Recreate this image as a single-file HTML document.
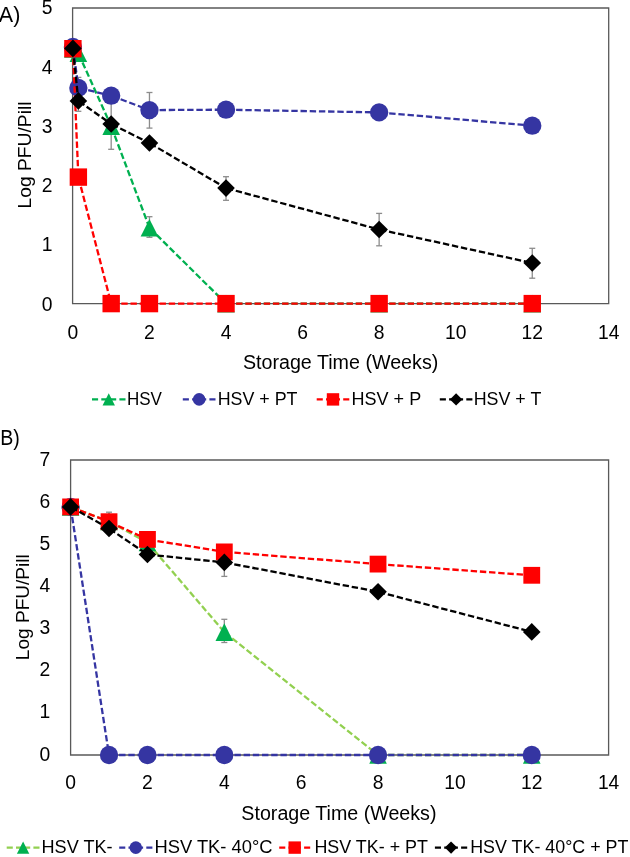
<!DOCTYPE html>
<html><head><meta charset="utf-8"><style>
html,body{margin:0;padding:0;background:#fff;width:630px;height:857px;overflow:hidden}
body{position:relative;font-family:"Liberation Sans", sans-serif}
</style></head><body>
<svg width="630" height="857" viewBox="0 0 630 857" style="position:absolute;left:0;top:0;will-change:transform"><rect width="630" height="857" fill="#fff"/><g font-family='"Liberation Sans", sans-serif' fill="#000"><path d="M72.6 8.0H608.7V303.6H72.6Z" fill="none" stroke="#595959" stroke-width="1.3"/><line x1="111.18" y1="103.00" x2="111.18" y2="149.30" stroke="#8C8C8C" stroke-width="1.3"/><line x1="108.18" y1="103.00" x2="114.18" y2="103.00" stroke="#8C8C8C" stroke-width="1.3"/><line x1="108.18" y1="149.30" x2="114.18" y2="149.30" stroke="#8C8C8C" stroke-width="1.3"/><line x1="149.46" y1="216.70" x2="149.46" y2="237.30" stroke="#8C8C8C" stroke-width="1.3"/><line x1="146.46" y1="216.70" x2="152.46" y2="216.70" stroke="#8C8C8C" stroke-width="1.3"/><line x1="146.46" y1="237.30" x2="152.46" y2="237.30" stroke="#8C8C8C" stroke-width="1.3"/><line x1="78.37" y1="77.40" x2="78.37" y2="98.00" stroke="#8C8C8C" stroke-width="1.3"/><line x1="75.37" y1="77.40" x2="81.37" y2="77.40" stroke="#8C8C8C" stroke-width="1.3"/><line x1="75.37" y1="98.00" x2="81.37" y2="98.00" stroke="#8C8C8C" stroke-width="1.3"/><line x1="149.46" y1="92.50" x2="149.46" y2="128.10" stroke="#8C8C8C" stroke-width="1.3"/><line x1="146.46" y1="92.50" x2="152.46" y2="92.50" stroke="#8C8C8C" stroke-width="1.3"/><line x1="146.46" y1="128.10" x2="152.46" y2="128.10" stroke="#8C8C8C" stroke-width="1.3"/><line x1="78.37" y1="90.50" x2="78.37" y2="111.30" stroke="#8C8C8C" stroke-width="1.3"/><line x1="75.37" y1="90.50" x2="81.37" y2="90.50" stroke="#8C8C8C" stroke-width="1.3"/><line x1="75.37" y1="111.30" x2="81.37" y2="111.30" stroke="#8C8C8C" stroke-width="1.3"/><line x1="226.02" y1="176.70" x2="226.02" y2="200.30" stroke="#8C8C8C" stroke-width="1.3"/><line x1="223.02" y1="176.70" x2="229.02" y2="176.70" stroke="#8C8C8C" stroke-width="1.3"/><line x1="223.02" y1="200.30" x2="229.02" y2="200.30" stroke="#8C8C8C" stroke-width="1.3"/><line x1="379.14" y1="213.40" x2="379.14" y2="245.80" stroke="#8C8C8C" stroke-width="1.3"/><line x1="376.14" y1="213.40" x2="382.14" y2="213.40" stroke="#8C8C8C" stroke-width="1.3"/><line x1="376.14" y1="245.80" x2="382.14" y2="245.80" stroke="#8C8C8C" stroke-width="1.3"/><line x1="532.26" y1="248.30" x2="532.26" y2="278.20" stroke="#8C8C8C" stroke-width="1.3"/><line x1="529.26" y1="248.30" x2="535.26" y2="248.30" stroke="#8C8C8C" stroke-width="1.3"/><line x1="529.26" y1="278.20" x2="535.26" y2="278.20" stroke="#8C8C8C" stroke-width="1.3"/><path d="M72.90 49.00L78.37 53.20M78.37 53.20L111.18 126.20M111.18 126.20L149.46 227.80M149.46 227.80L226.02 303.60M226.02 303.60L379.14 303.60M379.14 303.60L532.26 303.60" fill="none" stroke="#00B050" stroke-width="2.3" stroke-dasharray="6.4 2.8" stroke-dashoffset="-0.9"/><path d="M72.90 40.20L81.70 57.80L64.10 57.80Z" fill="#00B050"/><path d="M78.37 44.40L87.17 62.00L69.57 62.00Z" fill="#00B050"/><path d="M111.18 117.40L119.98 135.00L102.38 135.00Z" fill="#00B050"/><path d="M149.46 219.00L158.26 236.60L140.66 236.60Z" fill="#00B050"/><path d="M226.02 294.80L234.82 312.40L217.22 312.40Z" fill="#00B050"/><path d="M379.14 294.80L387.94 312.40L370.34 312.40Z" fill="#00B050"/><path d="M532.26 294.80L541.06 312.40L523.46 312.40Z" fill="#00B050"/><path d="M72.90 47.00L78.37 87.90M78.37 87.90L111.18 95.70M111.18 95.70L149.46 110.10M149.46 110.10L226.02 109.70M226.02 109.70L379.14 112.40M379.14 112.40L532.26 125.70" fill="none" stroke="#3535A2" stroke-width="2.3" stroke-dasharray="6.4 2.8" stroke-dashoffset="-0.9"/><circle cx="72.90" cy="47.00" r="9.15" fill="#3535A2"/><circle cx="78.37" cy="87.90" r="9.15" fill="#3535A2"/><circle cx="111.18" cy="95.70" r="9.15" fill="#3535A2"/><circle cx="149.46" cy="110.10" r="9.15" fill="#3535A2"/><circle cx="226.02" cy="109.70" r="9.15" fill="#3535A2"/><circle cx="379.14" cy="112.40" r="9.15" fill="#3535A2"/><circle cx="532.26" cy="125.70" r="9.15" fill="#3535A2"/><path d="M72.90 48.70L78.37 177.10M78.37 177.10L111.18 303.60M111.18 303.60L149.46 303.60M149.46 303.60L226.02 303.60M226.02 303.60L379.14 303.60M379.14 303.60L532.26 303.60" fill="none" stroke="#FF0000" stroke-width="2.3" stroke-dasharray="6.4 2.8" stroke-dashoffset="-0.9"/><rect x="64.20" y="40.00" width="17.40" height="17.40" fill="#FF0000"/><rect x="69.67" y="168.40" width="17.40" height="17.40" fill="#FF0000"/><rect x="102.48" y="294.90" width="17.40" height="17.40" fill="#FF0000"/><rect x="140.76" y="294.90" width="17.40" height="17.40" fill="#FF0000"/><rect x="217.32" y="294.90" width="17.40" height="17.40" fill="#FF0000"/><rect x="370.44" y="294.90" width="17.40" height="17.40" fill="#FF0000"/><rect x="523.56" y="294.90" width="17.40" height="17.40" fill="#FF0000"/><path d="M72.90 48.40L78.37 100.90M78.37 100.90L111.18 124.00M111.18 124.00L149.46 143.00M149.46 143.00L226.02 188.10M226.02 188.10L379.14 229.50M379.14 229.50L532.26 263.00" fill="none" stroke="#000000" stroke-width="2.3" stroke-dasharray="6.4 2.8" stroke-dashoffset="-0.9"/><path d="M72.90 39.60L81.70 48.40L72.90 57.20L64.10 48.40Z" fill="#000000"/><path d="M78.37 92.10L87.17 100.90L78.37 109.70L69.57 100.90Z" fill="#000000"/><path d="M111.18 115.20L119.98 124.00L111.18 132.80L102.38 124.00Z" fill="#000000"/><path d="M149.46 134.20L158.26 143.00L149.46 151.80L140.66 143.00Z" fill="#000000"/><path d="M226.02 179.30L234.82 188.10L226.02 196.90L217.22 188.10Z" fill="#000000"/><path d="M379.14 220.70L387.94 229.50L379.14 238.30L370.34 229.50Z" fill="#000000"/><path d="M532.26 254.20L541.06 263.00L532.26 271.80L523.46 263.00Z" fill="#000000"/><text x="52.60" y="310.50" font-size="19.3" text-anchor="end" >0</text><text x="52.60" y="251.40" font-size="19.3" text-anchor="end" >1</text><text x="52.60" y="192.30" font-size="19.3" text-anchor="end" >2</text><text x="52.60" y="133.20" font-size="19.3" text-anchor="end" >3</text><text x="52.60" y="74.10" font-size="19.3" text-anchor="end" >4</text><text x="52.60" y="13.70" font-size="19.3" text-anchor="end" >5</text><text x="72.90" y="338.90" font-size="19.3" text-anchor="middle" >0</text><text x="149.46" y="338.90" font-size="19.3" text-anchor="middle" >2</text><text x="226.02" y="338.90" font-size="19.3" text-anchor="middle" >4</text><text x="302.58" y="338.90" font-size="19.3" text-anchor="middle" >6</text><text x="379.14" y="338.90" font-size="19.3" text-anchor="middle" >8</text><text x="455.70" y="338.90" font-size="19.3" text-anchor="middle" >10</text><text x="532.26" y="338.90" font-size="19.3" text-anchor="middle" >12</text><text x="608.82" y="338.90" font-size="19.3" text-anchor="middle" >14</text><text x="-1.20" y="21.90" font-size="21.5" text-anchor="start" >A)</text><text transform="translate(31.4 155) rotate(-90)" font-size="19" text-anchor="middle" textLength="107" lengthAdjust="spacingAndGlyphs">Log PFU/Pill</text><text x="340.6" y="368.8" font-size="19.4" text-anchor="middle" textLength="195.4" lengthAdjust="spacingAndGlyphs">Storage Time (Weeks)</text><path d="M92.00 399.40H108.75M125.50 399.40H108.75" stroke="#00B050" stroke-width="2.3" stroke-dasharray="6.1 3.2"/><path d="M108.75 393.20L114.95 405.60L102.55 405.60Z" fill="#00B050"/><text x="126.90" y="404.70" font-size="18" textLength="35.00" lengthAdjust="spacingAndGlyphs">HSV</text><path d="M182.80 399.40H199.15M215.50 399.40H199.15" stroke="#3535A2" stroke-width="2.3" stroke-dasharray="6.1 3.2"/><circle cx="199.15" cy="399.40" r="6.30" fill="#3535A2"/><text x="217.70" y="404.70" font-size="18" textLength="79.80" lengthAdjust="spacingAndGlyphs">HSV + PT</text><path d="M316.70 399.40H333.00M349.30 399.40H333.00" stroke="#FF0000" stroke-width="2.3" stroke-dasharray="6.1 3.2"/><rect x="326.80" y="393.20" width="12.40" height="12.40" fill="#FF0000"/><text x="351.50" y="404.70" font-size="18" textLength="69.70" lengthAdjust="spacingAndGlyphs">HSV + P</text><path d="M439.80 399.40H456.10M472.40 399.40H456.10" stroke="#000000" stroke-width="2.3" stroke-dasharray="6.1 3.2"/><path d="M456.10 393.20L462.30 399.40L456.10 405.60L449.90 399.40Z" fill="#000000"/><text x="473.70" y="404.70" font-size="18" textLength="67.60" lengthAdjust="spacingAndGlyphs">HSV + T</text><path d="M70.6 460.0H608.6V755.0H70.6Z" fill="none" stroke="#595959" stroke-width="1.3"/><line x1="224.32" y1="619.30" x2="224.32" y2="642.50" stroke="#8C8C8C" stroke-width="1.3"/><line x1="221.32" y1="619.30" x2="227.32" y2="619.30" stroke="#8C8C8C" stroke-width="1.3"/><line x1="221.32" y1="642.50" x2="227.32" y2="642.50" stroke="#8C8C8C" stroke-width="1.3"/><line x1="109.03" y1="512.20" x2="109.03" y2="531.20" stroke="#8C8C8C" stroke-width="1.3"/><line x1="106.03" y1="512.20" x2="112.03" y2="512.20" stroke="#8C8C8C" stroke-width="1.3"/><line x1="106.03" y1="531.20" x2="112.03" y2="531.20" stroke="#8C8C8C" stroke-width="1.3"/><line x1="224.32" y1="548.40" x2="224.32" y2="576.40" stroke="#8C8C8C" stroke-width="1.3"/><line x1="221.32" y1="548.40" x2="227.32" y2="548.40" stroke="#8C8C8C" stroke-width="1.3"/><line x1="221.32" y1="576.40" x2="227.32" y2="576.40" stroke="#8C8C8C" stroke-width="1.3"/><path d="M70.60 506.90L109.03 521.50M109.03 521.50L147.46 542.50M147.46 542.50L224.32 632.10M224.32 632.10L378.04 755.00M378.04 755.00L531.76 755.00" fill="none" stroke="#92D050" stroke-width="2.3" stroke-dasharray="6.4 2.8" stroke-dashoffset="-0.9"/><path d="M70.60 498.10L79.40 515.70L61.80 515.70Z" fill="#00B050"/><path d="M109.03 512.70L117.83 530.30L100.23 530.30Z" fill="#00B050"/><path d="M147.46 533.70L156.26 551.30L138.66 551.30Z" fill="#00B050"/><path d="M224.32 623.30L233.12 640.90L215.52 640.90Z" fill="#00B050"/><path d="M378.04 746.20L386.84 763.80L369.24 763.80Z" fill="#00B050"/><path d="M531.76 746.20L540.56 763.80L522.96 763.80Z" fill="#00B050"/><path d="M70.60 506.90L109.03 755.00M109.03 755.00L147.46 755.00M147.46 755.00L224.32 755.00M224.32 755.00L378.04 755.00M378.04 755.00L531.76 755.00" fill="none" stroke="#3535A2" stroke-width="2.3" stroke-dasharray="6.4 2.8" stroke-dashoffset="-0.9"/><circle cx="70.60" cy="506.90" r="9.15" fill="#3535A2"/><circle cx="109.03" cy="755.00" r="9.15" fill="#3535A2"/><circle cx="147.46" cy="755.00" r="9.15" fill="#3535A2"/><circle cx="224.32" cy="755.00" r="9.15" fill="#3535A2"/><circle cx="378.04" cy="755.00" r="9.15" fill="#3535A2"/><circle cx="531.76" cy="755.00" r="9.15" fill="#3535A2"/><path d="M70.60 506.90L109.03 521.70M109.03 521.70L147.46 539.40M147.46 539.40L224.32 551.90M224.32 551.90L378.04 564.10M378.04 564.10L531.76 575.30" fill="none" stroke="#FF0000" stroke-width="2.3" stroke-dasharray="6.4 2.8" stroke-dashoffset="-0.9"/><rect x="62.20" y="498.50" width="16.80" height="16.80" fill="#FF0000"/><rect x="100.63" y="513.30" width="16.80" height="16.80" fill="#FF0000"/><rect x="139.06" y="531.00" width="16.80" height="16.80" fill="#FF0000"/><rect x="215.92" y="543.50" width="16.80" height="16.80" fill="#FF0000"/><rect x="369.64" y="555.70" width="16.80" height="16.80" fill="#FF0000"/><rect x="523.36" y="566.90" width="16.80" height="16.80" fill="#FF0000"/><path d="M70.60 506.90L109.03 528.50M109.03 528.50L147.46 554.50M147.46 554.50L224.32 562.40M224.32 562.40L378.04 591.80M378.04 591.80L531.76 631.90" fill="none" stroke="#000000" stroke-width="2.3" stroke-dasharray="6.4 2.8" stroke-dashoffset="-0.9"/><path d="M70.60 498.10L79.40 506.90L70.60 515.70L61.80 506.90Z" fill="#000000"/><path d="M109.03 519.70L117.83 528.50L109.03 537.30L100.23 528.50Z" fill="#000000"/><path d="M147.46 545.70L156.26 554.50L147.46 563.30L138.66 554.50Z" fill="#000000"/><path d="M224.32 553.60L233.12 562.40L224.32 571.20L215.52 562.40Z" fill="#000000"/><path d="M378.04 583.00L386.84 591.80L378.04 600.60L369.24 591.80Z" fill="#000000"/><path d="M531.76 623.10L540.56 631.90L531.76 640.70L522.96 631.90Z" fill="#000000"/><text x="50.20" y="760.60" font-size="19.3" text-anchor="end" >0</text><text x="50.20" y="718.46" font-size="19.3" text-anchor="end" >1</text><text x="50.20" y="676.32" font-size="19.3" text-anchor="end" >2</text><text x="50.20" y="634.18" font-size="19.3" text-anchor="end" >3</text><text x="50.20" y="592.04" font-size="19.3" text-anchor="end" >4</text><text x="50.20" y="549.90" font-size="19.3" text-anchor="end" >5</text><text x="50.20" y="507.76" font-size="19.3" text-anchor="end" >6</text><text x="50.20" y="465.62" font-size="19.3" text-anchor="end" >7</text><text x="70.60" y="789.30" font-size="19.3" text-anchor="middle" >0</text><text x="147.46" y="789.30" font-size="19.3" text-anchor="middle" >2</text><text x="224.32" y="789.30" font-size="19.3" text-anchor="middle" >4</text><text x="301.18" y="789.30" font-size="19.3" text-anchor="middle" >6</text><text x="378.04" y="789.30" font-size="19.3" text-anchor="middle" >8</text><text x="454.90" y="789.30" font-size="19.3" text-anchor="middle" >10</text><text x="531.76" y="789.30" font-size="19.3" text-anchor="middle" >12</text><text x="608.62" y="789.30" font-size="19.3" text-anchor="middle" >14</text><text x="0.30" y="444.60" font-size="21.5" text-anchor="start" textLength="19.6" lengthAdjust="spacingAndGlyphs">B)</text><text transform="translate(29.3 607.2) rotate(-90)" font-size="19" text-anchor="middle" textLength="106" lengthAdjust="spacingAndGlyphs">Log PFU/Pill</text><text x="338.9" y="819.5" font-size="19.4" text-anchor="middle" textLength="195.1" lengthAdjust="spacingAndGlyphs">Storage Time (Weeks)</text><path d="M6.70 847.60H23.10M39.50 847.60H23.10" stroke="#92D050" stroke-width="2.3" stroke-dasharray="6.1 3.2"/><path d="M23.10 841.40L29.30 853.80L16.90 853.80Z" fill="#00B050"/><text x="41.50" y="853.30" font-size="18" textLength="71.10" lengthAdjust="spacingAndGlyphs">HSV TK-</text><path d="M119.20 847.60H135.80M152.40 847.60H135.80" stroke="#3535A2" stroke-width="2.3" stroke-dasharray="6.1 3.2"/><circle cx="135.80" cy="847.60" r="6.30" fill="#3535A2"/><text x="154.40" y="853.30" font-size="18" textLength="118.20" lengthAdjust="spacingAndGlyphs">HSV TK- 40°C</text><path d="M279.20 847.60H294.70M310.20 847.60H294.70" stroke="#FF0000" stroke-width="2.3" stroke-dasharray="6.1 3.2"/><rect x="288.50" y="841.40" width="12.40" height="12.40" fill="#FF0000"/><text x="314.40" y="853.30" font-size="18" textLength="113.60" lengthAdjust="spacingAndGlyphs">HSV TK- + PT</text><path d="M434.90 847.60H451.05M467.20 847.60H451.05" stroke="#000000" stroke-width="2.3" stroke-dasharray="6.1 3.2"/><path d="M451.05 841.40L457.25 847.60L451.05 853.80L444.85 847.60Z" fill="#000000"/><text x="470.20" y="853.30" font-size="18" textLength="158.20" lengthAdjust="spacingAndGlyphs">HSV TK- 40°C + PT</text></g></svg>
</body></html>
